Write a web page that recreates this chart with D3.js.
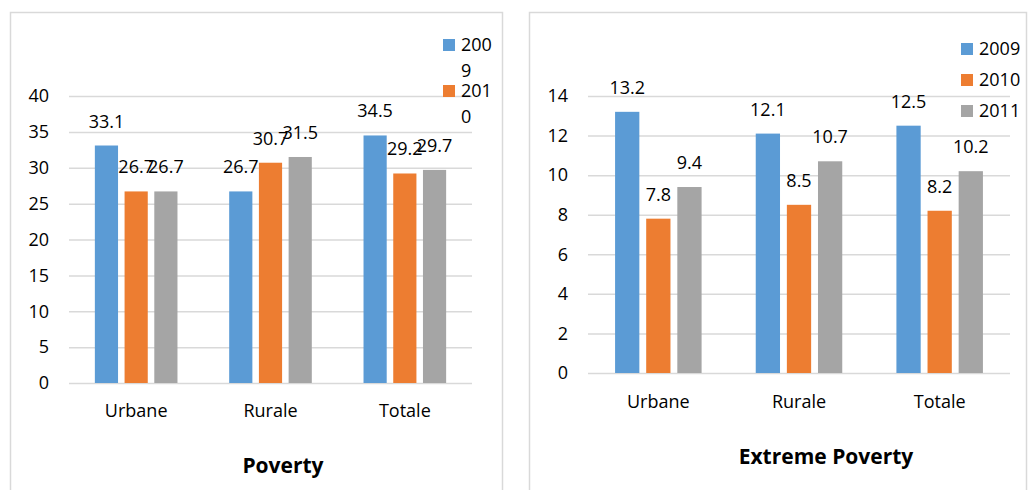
<!DOCTYPE html>
<html>
<head>
<meta charset="utf-8">
<script src="https://cdn.jsdelivr.net/npm/d3@7"></script>
<style>
  html, body { margin: 0; padding: 0; background: #fff; }
  svg { display: block; font-family: "Open Sans", sans-serif; }
</style>
</head>
<body>
<svg id="chart" width="1029" height="490"></svg>
<script>
// ---- data ----
const categories = ["Urbane", "Rurale", "Totale"];
const years = ["2009", "2010", "2011"];
const colors = ["#5B9BD5", "#ED7D31", "#A5A5A5"];

const poverty2009 = [33.1, 26.7, 34.5];
const poverty2010 = [26.7, 30.7, 29.2];
const poverty2011 = [26.7, 31.5, 29.7];
const povertyTicks = [0, 5, 10, 15, 20, 25, 30, 35, 40];

const extreme2009 = [13.2, 12.1, 12.5];
const extreme2010 = [7.8, 8.5, 8.2];
const extreme2011 = [9.4, 10.7, 10.2];
const extremeTicks = [0, 2, 4, 6, 8, 10, 12, 14];

const titleLeft = "Poverty";
const titleRight = "Extreme Poverty";

// ---- drawing ----
const svg = d3.select("#chart");

function drawPanel(cfg) {
  const g = svg.append("g");
  // frame
  g.append("rect")
    .attr("x", cfg.frame[0] + 0.5).attr("y", cfg.frame[1] + 0.5)
    .attr("width", cfg.frame[2]).attr("height", cfg.frame[3])
    .attr("fill", "none").attr("stroke", "#d9d9d9").attr("stroke-width", 1.5);

  const x0 = d3.scaleBand().domain(categories).range([cfg.left, cfg.right]).paddingInner(0).paddingOuter(0);
  const x1 = d3.scaleBand().domain(years).range([0, x0.bandwidth()]).paddingInner(0.22).paddingOuter(0.87);
  const y = d3.scaleLinear().domain([cfg.ticks[0], cfg.ticks[cfg.ticks.length - 1]]).range([cfg.bottom, cfg.top]);

  // grid + y axis
  const yAxis = d3.axisLeft(y).tickValues(cfg.ticks).tickSize(-(cfg.right - cfg.left)).tickPadding(20).tickFormat(d3.format("d"));
  const ga = g.append("g").attr("transform", `translate(${cfg.left},0)`).call(yAxis);
  ga.select(".domain").remove();
  ga.selectAll(".tick line").attr("stroke", "#d9d9d9").attr("stroke-width", 1.5);
  ga.selectAll(".tick text").attr("fill", "#000").style("font-size", "18px").style("font-family", "'Open Sans', sans-serif");

  // bars
  const rows = categories.map((c, i) => ({ cat: c, vals: cfg.series.map((s, k) => ({ year: years[k], v: s[i], color: colors[k] })) }));
  const grp = g.append("g").selectAll("g").data(rows).join("g")
    .attr("transform", d => `translate(${x0(d.cat)},0)`);
  grp.selectAll("rect").data(d => d.vals).join("rect")
    .attr("x", d => x1(d.year))
    .attr("y", d => y(d.v))
    .attr("width", x1.bandwidth())
    .attr("height", d => y(0) - y(d.v))
    .attr("fill", d => d.color);
  grp.selectAll("text").data(d => d.vals).join("text")
    .attr("x", d => x1(d.year) + x1.bandwidth() / 2)
    .attr("y", d => y(d.v) - 18)
    .attr("text-anchor", "middle")
    .style("font-size", "18px")
    .text(d => d3.format(".1f")(d.v));

  // category labels
  g.append("g").selectAll("text").data(categories).join("text")
    .attr("x", d => x0(d) + x0.bandwidth() / 2)
    .attr("y", cfg.catY)
    .attr("text-anchor", "middle")
    .style("font-size", "18px")
    .text(d => d);

  // title
  g.append("text")
    .attr("x", cfg.titleX).attr("y", cfg.titleY)
    .attr("text-anchor", "middle")
    .style("font-size", "21px").style("font-weight", "bold")
    .text(cfg.title);

  // legend (only the entries that fit in the legend box, as in the reference)
  const lg = g.append("g");
  years.forEach((yr, k) => {
    const base = cfg.legY + k * cfg.legStep;
    if (base > cfg.legBottom) return;
    lg.append("rect").attr("x", cfg.legX).attr("y", base - 12).attr("width", 12).attr("height", 12).attr("fill", colors[k]);
    if (cfg.wrap) {
      // label wrapped onto two lines, as in the narrow legend of the reference
      lg.append("text").attr("x", cfg.legX + 18).attr("y", base).style("font-size", "18px").text(yr.slice(0, cfg.wrap));
      lg.append("text").attr("x", cfg.legX + 18).attr("y", base + 26).style("font-size", "18px").text(yr.slice(cfg.wrap));
    } else {
      lg.append("text").attr("x", cfg.legX + 18).attr("y", base).style("font-size", "18px").text(yr);
    }
  });
}

drawPanel({
  id: "L",
  frame: [10, 12, 492, 490],
  left: 69, right: 472, top: 96, bottom: 383,
  ticks: povertyTicks,
  series: [poverty2009, poverty2010, poverty2011],
  catY: 417, title: titleLeft, titleX: 283, titleY: 473,
  legX: 443, legY: 51, legStep: 46, legBottom: 130, wrap: 3
});

drawPanel({
  id: "R",
  frame: [529, 12, 497, 490],
  left: 588, right: 1010, top: 96, bottom: 373,
  ticks: extremeTicks,
  series: [extreme2009, extreme2010, extreme2011],
  catY: 408, title: titleRight, titleX: 826, titleY: 464,
  legX: 961, legY: 55, legStep: 31, legBottom: 130, wrap: 0
});
</script>
</body>
</html>
